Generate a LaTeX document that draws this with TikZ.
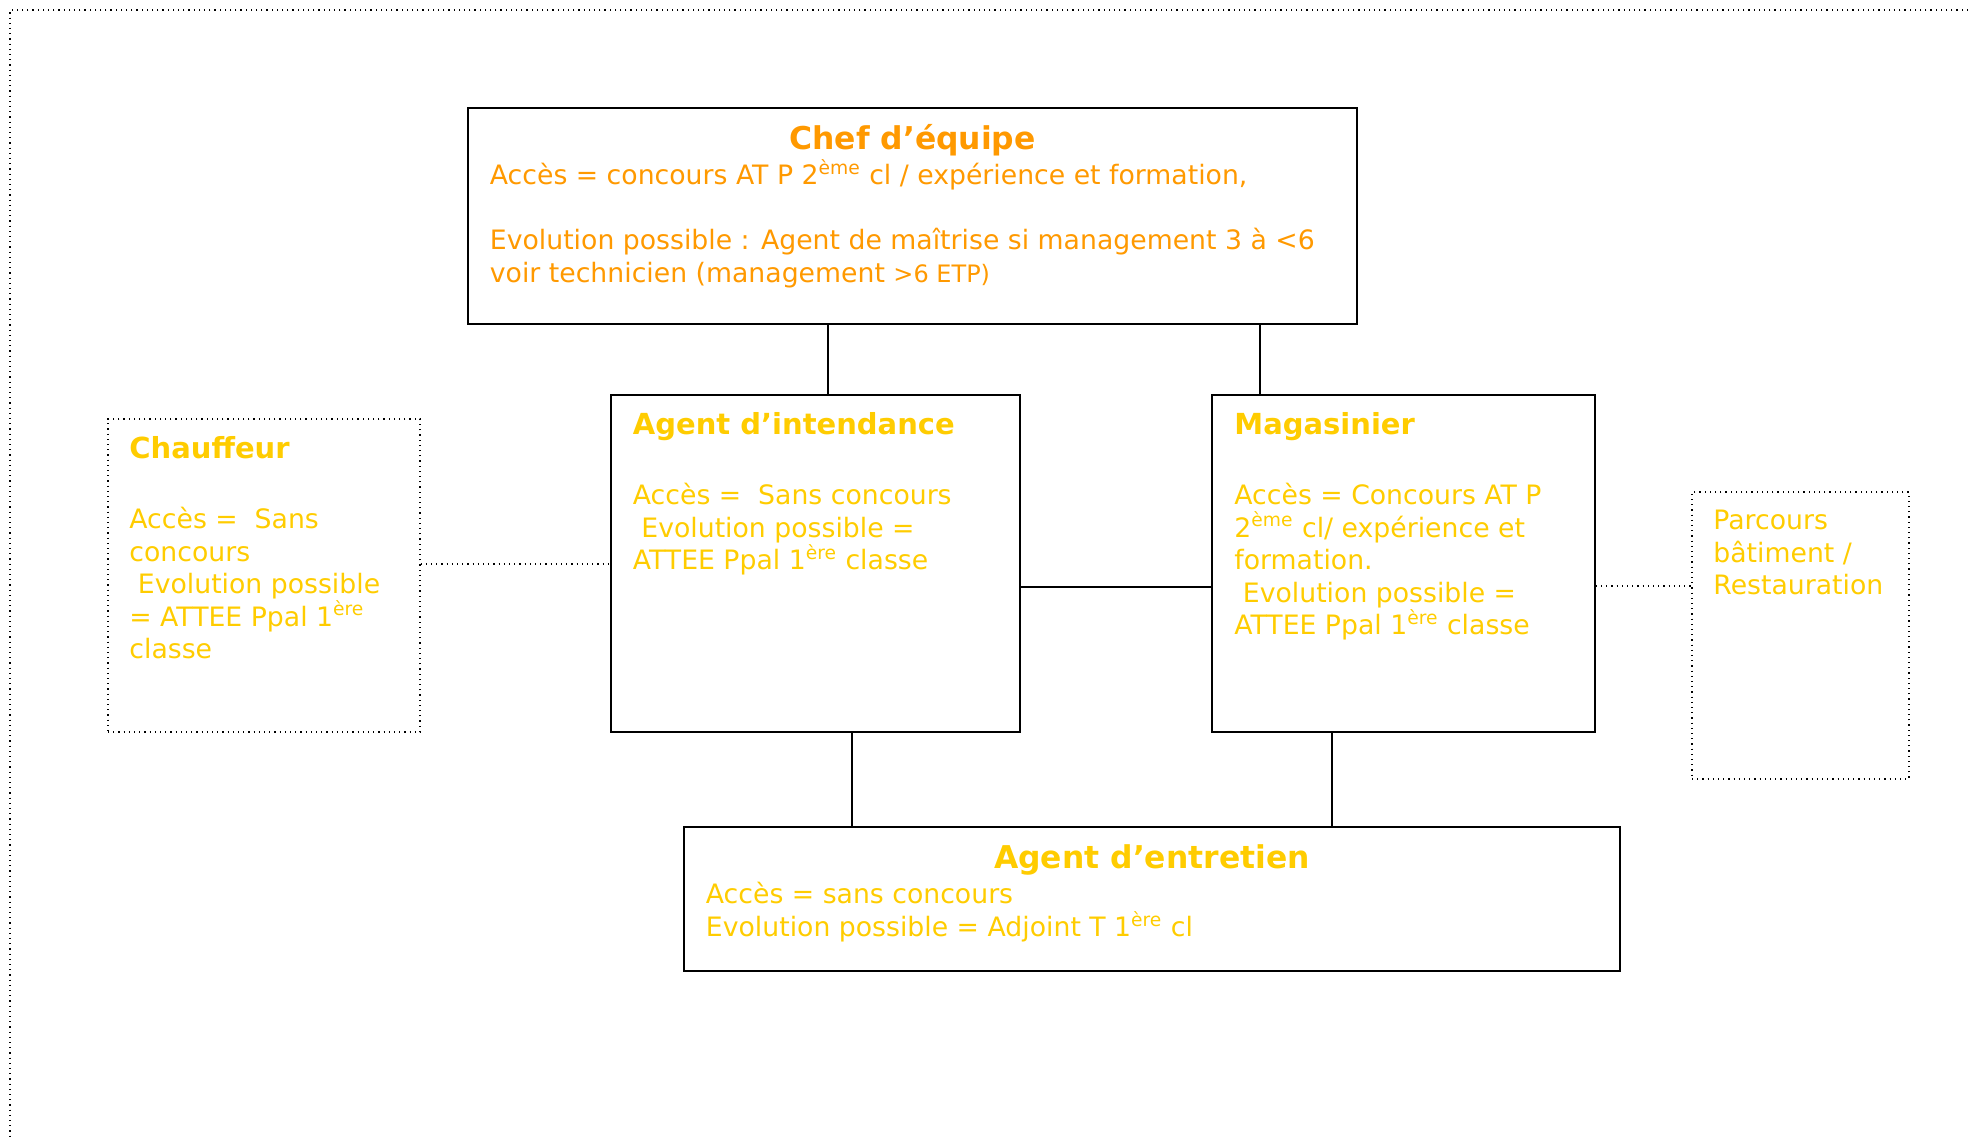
\documentclass[tikz,border=0pt]{standalone}
\usepackage{fontspec}
\setmainfont{DejaVu Sans}
\definecolor{chefcol}{RGB}{255,153,0}
\definecolor{gold}{RGB}{255,204,0}
\newcommand{\bodyf}{\fontsize{13.35}{16}\selectfont}
\newcommand{\titlef}{\bfseries\fontsize{14.5}{17}\selectfont}
\newcommand{\bigtitlef}{\bfseries\fontsize{15.7}{18}\selectfont}
\begin{document}
\begin{tikzpicture}[x=0.5pt,y=-0.5pt,
  solidbox/.style={draw=black, line width=0.8pt, inner sep=0pt},
  dotbox/.style={draw=black, dotted, line width=0.6pt, inner sep=0pt},
  link/.style={draw=black, line width=0.8pt},
  dotlink/.style={draw=black, dotted, line width=0.6pt},
  txt/.style={anchor=base west, inner sep=0pt, font=\bodyf, text=gold},
  ctxt/.style={anchor=base west, inner sep=0pt, font=\bodyf, text=chefcol}]
\useasboundingbox (0,0) rectangle (1968,1136);
% outer frame
\draw[dotlink] (1968,10) -- (10,10) -- (10,1136);
% boxes
\node[solidbox, minimum width=444.5pt, minimum height=108pt] (chef) at (912.5,216) {};
\node[solidbox, minimum width=204.5pt, minimum height=168.5pt] (intend) at (815.5,563.5) {};
\node[solidbox, minimum width=191.5pt, minimum height=168.5pt] (mag) at (1403.5,563.5) {};
\node[dotbox, minimum width=156pt, minimum height=156.5pt] (chauf) at (264,575.5) {};
\node[dotbox, minimum width=108.5pt, minimum height=143.5pt] (parc) at (1800.5,635.5) {};
\node[solidbox, minimum width=468pt, minimum height=72pt] (entr) at (1152,899) {};
% connectors
\coordinate (k1) at ([xshift=6.25pt]intend.north);
\draw[link] (k1) -- (k1 |- chef.south);
\coordinate (k2) at ([xshift=-71.75pt]mag.north);
\draw[link] (k2) -- (k2 |- chef.south);
\coordinate (k3) at ([xshift=18.25pt]intend.south);
\draw[link] (k3) -- (k3 |- entr.north);
\coordinate (k4) at ([xshift=-35.75pt]mag.south);
\draw[link] (k4) -- (k4 |- entr.north);
\coordinate (h1) at ([yshift=-11.75pt]intend.east);
\draw[link] (h1) -- (h1 -| mag.west);
\coordinate (h2) at ([yshift=5.75pt]chauf.east);
\draw[dotlink] (h2) -- (h2 -| intend.west);
\coordinate (h3) at ([yshift=-11.25pt]mag.east);
\draw[dotlink] (h3) -- (h3 -| parc.west);
% Chef d'equipe
\node[anchor=base, inner sep=0pt, font=\bigtitlef, text=chefcol] (t1) at (912.5,149.5) {Chef d’équipe};
\node[ctxt] (t2) at (489.5,184.5) {Accès = concours AT P 2\textsuperscript{ème} cl / expérience et formation,};
\node[ctxt] (t3) at (489.5,249.5) {Evolution possible : Agent de maîtrise si management 3 à <6};
\node[ctxt] (t4) at (489.5,282) {voir technicien (management {\fontsize{12}{14}\selectfont >6 ETP)}};
% Agent d'intendance
\node[txt, font=\titlef] (a1) at (632.5,434.5) {Agent d’intendance};
\node[txt] (a2) at (632.5,504.5) {Accès =\ \ Sans concours};
\node[txt] (a3) at (632.5,537) {\ Evolution possible =};
\node[txt] (a4) at (632.5,569.5) {ATTEE Ppal 1\textsuperscript{ère} classe};
% Magasinier
\node[txt, font=\titlef] (m1) at (1234,434.5) {Magasinier};
\node[txt] (m2) at (1234,504.5) {Accès = Concours AT P};
\node[txt] (m3) at (1234,537) {2\textsuperscript{ème} cl/ expérience et};
\node[txt] (m4) at (1234,569.5) {formation.};
\node[txt] (m5) at (1234,602) {\ Evolution possible =};
\node[txt] (m6) at (1234,634.5) {ATTEE Ppal 1\textsuperscript{ère} classe};
% Chauffeur
\node[txt, font=\titlef] (c1) at (129,458.5) {Chauffeur};
\node[txt] (c2) at (129,528.5) {Accès =\ \ Sans};
\node[txt] (c3) at (129,561) {concours};
\node[txt] (c4) at (129,593.5) {\ Evolution possible};
\node[txt] (c5) at (129,626) {= ATTEE Ppal 1\textsuperscript{ère}};
\node[txt] (c6) at (129,658.5) {classe};
% Parcours
\node[txt] (p1) at (1713,529.5) {Parcours};
\node[txt] (p2) at (1713,562) {bâtiment /};
\node[txt] (p3) at (1713,594.5) {Restauration};
% Agent d'entretien
\node[anchor=base, inner sep=0pt, font=\bigtitlef, text=gold] (e1) at (1152,868.5) {Agent d’entretien};
\node[txt] (e2) at (705.5,903.5) {Accès = sans concours};
\node[txt] (e3) at (705.5,936.5) {Evolution possible = Adjoint T 1\textsuperscript{ère} cl};
\end{tikzpicture}
\end{document}
